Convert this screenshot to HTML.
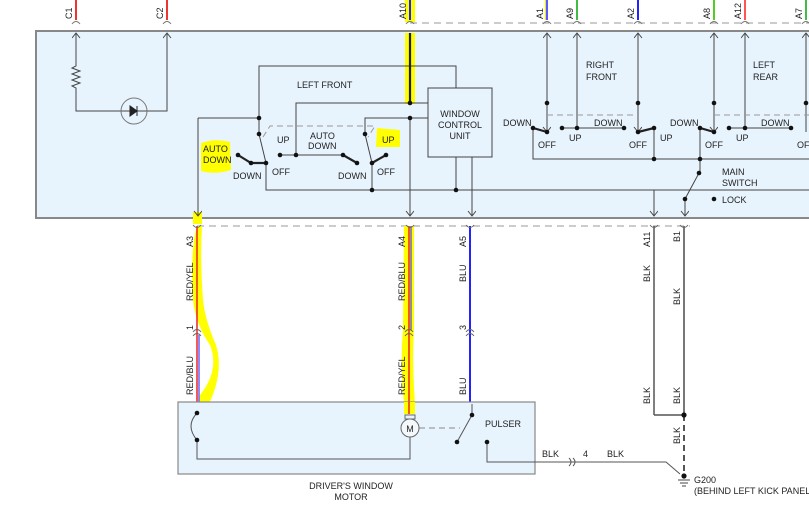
<!DOCTYPE html>
<html><head><meta charset="utf-8"><style>
html,body{margin:0;padding:0;background:#fff;width:809px;height:518px;overflow:hidden}
svg{display:block}
text{font-family:"Liberation Sans",sans-serif;font-size:9px;fill:#222}
</style></head><body>
<svg width="809" height="518" viewBox="0 0 809 518" xmlns="http://www.w3.org/2000/svg">
<defs>
<marker id="ar" markerWidth="9" markerHeight="9" refX="7" refY="4" orient="auto-start-reverse" markerUnits="userSpaceOnUse"><path d="M2,0 L7,4 L2,8" fill="none" stroke="#444" stroke-width="1"/></marker>
</defs>
<line x1="410" y1="23" x2="809" y2="23" stroke="#999" stroke-dasharray="7,5"/>
<line x1="197" y1="226" x2="690" y2="226" stroke="#999" stroke-dasharray="7,5"/>
<line x1="76" y1="0" x2="76" y2="20" stroke="#e33" stroke-width="2"/>
<line x1="167" y1="0" x2="167" y2="20" stroke="#e33" stroke-width="2"/>
<rect x="405" y="0" width="10" height="22" fill="#ff0"/>
<line x1="410" y1="0" x2="410" y2="20" stroke="#22f" stroke-width="2"/>
<line x1="547" y1="0" x2="547" y2="20" stroke="#22f" stroke-width="1.5"/><line x1="545.5" y1="0" x2="545.5" y2="20" stroke="#ee0" stroke-width="1"/>
<line x1="577" y1="0" x2="577" y2="20" stroke="#4b4" stroke-width="2"/>
<line x1="638" y1="0" x2="638" y2="20" stroke="#22f" stroke-width="2"/>
<line x1="714" y1="0" x2="714" y2="20" stroke="#5c2" stroke-width="2"/>
<line x1="745" y1="0" x2="745" y2="20" stroke="#f55" stroke-width="2"/>
<line x1="806" y1="0" x2="806" y2="20" stroke="#4b4" stroke-width="2"/>
<g fill="none" stroke="#777">
<path d="M72,24 Q76,19 80,24M163,24 Q167,19 171,24M406,24 Q410,19 414,24M543,24 Q547,19 551,24M573,24 Q577,19 581,24M634,24 Q638,19 642,24M710,24 Q714,19 718,24M741,24 Q745,19 749,24M802,24 Q806,19 810,24"/>
</g>
<g font-size="8.5">
<text transform="translate(72,19) rotate(-90)">C1</text>
<text transform="translate(163,19) rotate(-90)">C2</text>
<text transform="translate(406,19) rotate(-90)">A10</text>
<text transform="translate(543,19) rotate(-90)">A1</text>
<text transform="translate(573,19) rotate(-90)">A9</text>
<text transform="translate(634,19) rotate(-90)">A2</text>
<text transform="translate(710,19) rotate(-90)">A8</text>
<text transform="translate(741,19) rotate(-90)">A12</text>
<text transform="translate(802,19) rotate(-90)">A7</text>
</g>
<rect x="36" y="31" width="780" height="187" fill="#e8f4fd" stroke="#888" stroke-width="2"/>
<rect x="405" y="33" width="10" height="71" fill="#ff0"/>
<path d="M201,143 Q215,138 230,142 L231,170 Q215,175 201,171Z" fill="#ff0"/>
<path d="M377,128 L400,130 L400,147 L376,147Z" fill="#ff0"/>
<rect x="193" y="212" width="9" height="12" fill="#ff0"/>
<g stroke="#444" stroke-width="1" fill="none">
<path d="M76,33 V66 l-4,2 8,3 -8,3 8,3 -8,3 8,3 -8,3 4,2 V111 H167 V33" marker-start="url(#ar)"/>
<line x1="167" y1="33" x2="167" y2="60" marker-start="url(#ar)"/>
<circle cx="134" cy="111" r="13" stroke="#777"/>
<path d="M198,118 H259 V134"/><line x1="198" y1="118" x2="198" y2="216" marker-end="url(#ar)"/>
<path d="M259,118 V66 H456 V88"/>
<rect x="428" y="88" width="64" height="69" fill="#e8f4fd"/>
<path d="M296,155 V103 H428"/>
<path d="M280,155 H344"/>
<path d="M259,134 L266,163"/>
<path d="M365,134 V118 H428"/>
<path d="M365,134 L372,163"/>
<path d="M372,163 V190 M266,163 V190 H809"/>
<line x1="410" y1="118" x2="410" y2="216" marker-end="url(#ar)"/>
<path d="M456,157 V190"/>
<line x1="472" y1="157" x2="472" y2="216" marker-end="url(#ar)"/>
<line x1="654" y1="190" x2="654" y2="216" marker-end="url(#ar)"/>
<path d="M533,128 V159 H809"/>
<line x1="547" y1="33" x2="547" y2="132" marker-start="url(#ar)" marker-end="url(#ar)"/>
<line x1="577" y1="33" x2="577" y2="128" marker-start="url(#ar)"/>
<path d="M562,128 H624"/>
<line x1="638" y1="33" x2="638" y2="132" marker-start="url(#ar)" marker-end="url(#ar)"/>
<path d="M654,128 V159"/>
<line x1="714" y1="33" x2="714" y2="132" marker-start="url(#ar)" marker-end="url(#ar)"/>
<line x1="745" y1="33" x2="745" y2="128" marker-start="url(#ar)"/>
<path d="M729,128 H791"/>
<line x1="806" y1="33" x2="806" y2="132" marker-start="url(#ar)"/>
<path d="M700,128 V173 M699,173 L685,199"/>
<line x1="685" y1="199" x2="685" y2="216" marker-end="url(#ar)"/>
</g>
<g stroke="#999" stroke-dasharray="6,4" fill="none">
<path d="M263,137 L270,126 H375 L368,137"/>
<path d="M547,115 H638 M714,115 H809"/>
</g>
<g stroke="#222" stroke-width="2.2" fill="none">
<line x1="410" y1="33" x2="410" y2="103"/>
<path d="M238,155 L251,163 H266"/>
<path d="M343,155 L357,163"/>
<path d="M372,163 L386,155"/>
<path d="M533,128 L547,132"/><path d="M638,132 L654,128"/><path d="M700,128 L714,132"/>
</g>
<path d="M130,106 v10 l7,-5z M137,106 v10" fill="#222" stroke="#222"/>
<g fill="#111">
<circle cx="259" cy="118" r="2.3"/><circle cx="259" cy="134" r="2.3"/><circle cx="266" cy="163" r="2.3"/><circle cx="238" cy="155" r="2.3"/><circle cx="251" cy="163" r="2.3"/>
<circle cx="280" cy="155" r="2.3"/><circle cx="296" cy="155" r="2.3"/><circle cx="343" cy="155" r="2.3"/><circle cx="357" cy="163" r="2.3"/>
<circle cx="365" cy="134" r="2.3"/><circle cx="372" cy="163" r="2.3"/><circle cx="386" cy="155" r="2.3"/><circle cx="410" cy="103" r="2.3"/><circle cx="410" cy="118" r="2.3"/>
<circle cx="372" cy="190" r="2.3"/><circle cx="456" cy="190" r="2.3"/>
<circle cx="547" cy="103" r="2.3"/><circle cx="533" cy="128" r="2.3"/><circle cx="547" cy="132" r="2.3"/><circle cx="562" cy="128" r="2.3"/><circle cx="577" cy="128" r="2.3"/><circle cx="624" cy="128" r="2.3"/>
<circle cx="638" cy="103" r="2.3"/><circle cx="638" cy="132" r="2.3"/><circle cx="654" cy="128" r="2.3"/><circle cx="654" cy="159" r="2.3"/>
<circle cx="714" cy="103" r="2.3"/><circle cx="700" cy="128" r="2.3"/><circle cx="714" cy="132" r="2.3"/><circle cx="729" cy="128" r="2.3"/><circle cx="745" cy="128" r="2.3"/><circle cx="791" cy="128" r="2.3"/>
<circle cx="806" cy="103" r="2.3"/><circle cx="700" cy="159" r="2.3"/><circle cx="699" cy="173" r="2.3"/><circle cx="685" cy="199" r="2.3"/><circle cx="714" cy="199" r="2.3"/>
</g>
<g>
<text x="297" y="88">LEFT FRONT</text>
<text x="460" y="117" text-anchor="middle">WINDOW</text><text x="460" y="128" text-anchor="middle">CONTROL</text><text x="460" y="139" text-anchor="middle">UNIT</text>
<text x="203" y="152">AUTO</text><text x="203" y="163">DOWN</text>
<text x="233" y="179">DOWN</text><text x="272" y="175">OFF</text><text x="277" y="143">UP</text>
<text x="310" y="139">AUTO</text><text x="308" y="149">DOWN</text>
<text x="338" y="179">DOWN</text><text x="377" y="175">OFF</text><text x="382" y="143">UP</text>
<text x="586" y="68">RIGHT</text><text x="586" y="80">FRONT</text>
<text x="753" y="68">LEFT</text><text x="753" y="80">REAR</text>
<text x="503" y="126">DOWN</text><text x="538" y="148">OFF</text><text x="569" y="141">UP</text><text x="594" y="126">DOWN</text>
<text x="629" y="148">OFF</text><text x="660" y="141">UP</text><text x="670" y="126">DOWN</text><text x="705" y="148">OFF</text><text x="736" y="141">UP</text><text x="761" y="126">DOWN</text><text x="797" y="148">OFF</text>
<text x="722" y="175">MAIN</text><text x="722" y="186">SWITCH</text><text x="722" y="203">LOCK</text>
</g>
<path d="M197,226 Q190,250 193,300 Q196,325 210,345 Q220,370 200,395 L196,412 L205,412 Q225,375 216,345 Q205,320 203,300 Q200,260 202,226Z" fill="#ff0"/>
<path d="M404,226 L414,226 L414,330 Q412,360 415,404 L404,404 Q400,360 403,330Z" fill="#ff0"/>
<line x1="197" y1="226" x2="197" y2="404" stroke="#e22" stroke-width="1.5"/>
<line x1="199" y1="335" x2="199" y2="404" stroke="#66f" stroke-width="1.5"/>
<line x1="409" y1="226" x2="409" y2="412" stroke="#e22" stroke-width="1.5"/>
<line x1="411" y1="226" x2="411" y2="330" stroke="#44f" stroke-width="1.2"/>
<line x1="470" y1="226" x2="470" y2="404" stroke="#22f" stroke-width="2"/>
<line x1="654" y1="226" x2="654" y2="415" stroke="#555" stroke-width="1.5"/>
<line x1="684" y1="226" x2="684" y2="415" stroke="#777" stroke-width="2"/>
<path d="M654,415 H684" stroke="#555" stroke-width="1.5"/>
<line x1="684" y1="415" x2="684" y2="476" stroke="#555" stroke-width="2" stroke-dasharray="6,4"/>
<g fill="none" stroke="#666">
<path d="M193,225 Q197,230 201,225 M406,225 Q410,230 414,225 M466,225 Q470,230 474,225 M650,225 Q654,230 658,225 M680,225 Q684,230 688,225"/>
<path d="M193,332 Q197,327 201,332 M193,336 Q197,331 201,336 M405,332 Q409,327 413,332 M405,336 Q409,331 413,336 M466,332 Q470,327 474,332 M466,336 Q470,331 474,336"/>
</g>
<g font-size="8.5">
<text transform="translate(193,247) rotate(-90)">A3</text>
<text transform="translate(193,301) rotate(-90)">RED/YEL</text>
<text transform="translate(193,330) rotate(-90)">1</text>
<text transform="translate(193,395) rotate(-90)">RED/BLU</text>
<text transform="translate(405,247) rotate(-90)">A4</text>
<text transform="translate(405,301) rotate(-90)">RED/BLU</text>
<text transform="translate(405,330) rotate(-90)">2</text>
<text transform="translate(405,395) rotate(-90)">RED/YEL</text>
<text transform="translate(466,247) rotate(-90)">A5</text>
<text transform="translate(466,282) rotate(-90)">BLU</text>
<text transform="translate(466,330) rotate(-90)">3</text>
<text transform="translate(466,395) rotate(-90)">BLU</text>
<text transform="translate(650,247) rotate(-90)">A11</text>
<text transform="translate(650,282) rotate(-90)">BLK</text>
<text transform="translate(650,404) rotate(-90)">BLK</text>
<text transform="translate(680,242) rotate(-90)">B1</text>
<text transform="translate(680,305) rotate(-90)">BLK</text>
<text transform="translate(680,404) rotate(-90)">BLK</text>
<text transform="translate(680,444) rotate(-90)">BLK</text>
</g>
<rect x="178" y="402" width="357" height="72" fill="#e8f4fd" stroke="#888" stroke-width="1.2"/>
<rect x="404" y="402" width="11" height="12" fill="#ff0"/>
<line x1="409" y1="402" x2="409" y2="414" stroke="#e22" stroke-width="1.5"/>
<g stroke="#555" fill="none">
<path d="M197,413 Q185,426 197,440 V459 H410 V437"/>
<path d="M472,404 V415 L457,442"/>
<path d="M487,442 V462 H666 L680,474"/>
</g>
<line x1="419" y1="428" x2="460" y2="428" stroke="#888" stroke-dasharray="6,4"/>
<circle cx="410" cy="428" r="9" fill="#f4f8fb" stroke="#666"/>
<text x="410" y="432" text-anchor="middle" font-size="11">M</text>
<rect x="405" y="415" width="10" height="4" fill="none" stroke="#666"/>
<path d="M569,458 Q573,462 569,466 M573,458 Q577,462 573,466" stroke="#555" fill="none"/>
<g fill="#111"><circle cx="197" cy="413" r="2.3"/><circle cx="197" cy="440" r="2.3"/><circle cx="472" cy="415" r="2.3"/><circle cx="457" cy="442" r="2.3"/><circle cx="487" cy="442" r="2.3"/><circle cx="684" cy="415" r="2.6"/><circle cx="684" cy="476" r="2.6"/></g>
<path d="M678,480 H690 M680,483 H688 M682,486 H686" stroke="#444"/>
<text x="485" y="427">PULSER</text>
<text x="542" y="457">BLK</text><text x="583" y="457">4</text><text x="607" y="457">BLK</text>
<text x="694" y="483">G200</text><text x="694" y="494">(BEHIND LEFT KICK PANEL)</text>
<text x="351" y="489" text-anchor="middle">DRIVER'S WINDOW</text>
<text x="351" y="500" text-anchor="middle">MOTOR</text>
</svg>
</body></html>
